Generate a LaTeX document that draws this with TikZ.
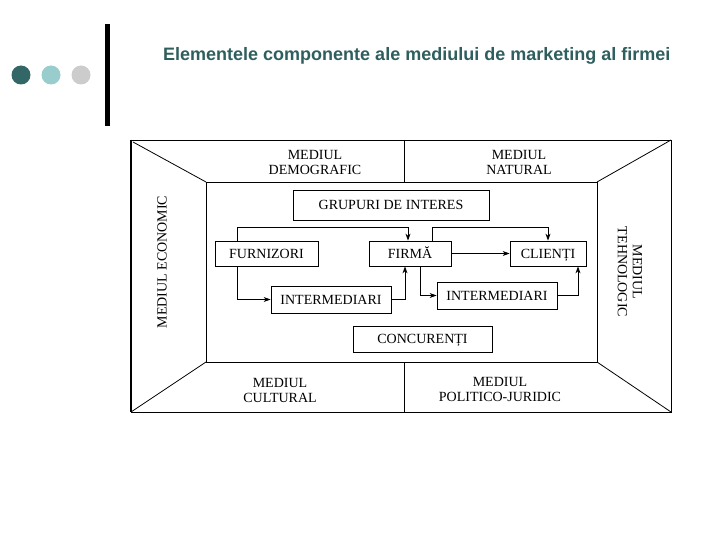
\documentclass[tikz,border=0pt]{standalone}
\usepackage{fontspec}
\setmainfont{Liberation Serif}
\newfontfamily\titlefont{Liberation Sans}
\usetikzlibrary{arrows.meta}
\definecolor{darkteal}{HTML}{336666}
\definecolor{lightteal}{HTML}{99CCCC}
\definecolor{lightgray2}{HTML}{CCCCCC}
\definecolor{titlecol}{HTML}{2E5E5E}
\tikzset{
  box/.style={draw, line width=0.8pt, inner sep=0pt, text height=9.6pt, text depth=0pt,
    font=\fontsize{14}{16}\selectfont, text=black},
  envlabel/.style={align=center, inner sep=0pt, font=\fontsize{14}{15}\selectfont, text=black},
  frame/.style={line width=0.8pt},
  arr/.style={line width=0.8pt, -{Stealth[length=7pt,width=5pt]}},
  dot/.style={circle, minimum size=19pt, inner sep=0pt}
}
\begin{document}
\begin{tikzpicture}[x=1pt,y=-1pt]
\useasboundingbox (0,0) rectangle (720,540);
% header decoration
\node[dot, fill=darkteal] (d1) at (21,75) {};
\node[dot, fill=lightteal] (d2) at (51,75) {};
\node[dot, fill=lightgray2] (d3) at (81,75) {};
\fill[black] (105,24) rectangle (109.5,126);
\node[anchor=west, inner sep=0pt, text=titlecol, font=\titlefont\bfseries\fontsize{18}{20}\selectfont] (title) at (163,56) {Elementele componente ale mediului de marketing al firmei};
% frame
\draw[frame] (131,140) rectangle (671,412);
\draw[line width=2.6pt] (131,139.6) -- (131,412.4);
\draw[frame] (206,182) rectangle (597,362);
\draw[frame] (133,142) -- (206,182);
\draw[frame] (671,140) -- (597,182);
\draw[frame] (131,412) -- (206,362);
\draw[frame] (671,412) -- (597,362);
\draw[frame] (404,140) -- (404,182);
\draw[frame] (404,362) -- (404,412);
% environment labels
\node[envlabel] (demo) at (315,162) {MEDIUL\\DEMOGRAFIC};
\node[envlabel] (nat) at (519,162) {MEDIUL\\NATURAL};
\node[envlabel] (cult) at (280,390) {MEDIUL\\CULTURAL};
\node[envlabel] (pol) at (500,389) {MEDIUL\\POLITICO-JURIDIC};
\node[envlabel, rotate=90] (eco) at (162,262) {MEDIUL ECONOMIC};
\node[envlabel, rotate=-90] (teh) at (630,272) {MEDIUL\\TEHNOLOGIC};
% boxes
\node[box, minimum width=196pt, minimum height=30pt] (grup) at (391,205) {GRUPURI DE INTERES};
\node[box, minimum width=103pt, minimum height=25pt] (furn) at (266.5,253.5) {FURNIZORI};
\node[box, minimum width=82pt, minimum height=25pt] (firma) at (410,253.5) {FIRMĂ};
\node[box, minimum width=76pt, minimum height=25pt] (cli) at (548,253.5) {CLIENȚI};
\node[box, minimum width=120pt, minimum height=27pt] (intL) at (331,299.5) {INTERMEDIARI};
\node[box, minimum width=120pt, minimum height=27pt] (intR) at (497,295.5) {INTERMEDIARI};
\node[box, minimum width=139pt, minimum height=26pt] (conc) at (422.5,339) {CONCURENȚI};
% connectors
\draw[arr] ([xshift=-29.5pt]furn.north) -- ++(0,-13) -| ([xshift=-2pt]firma.north);
\draw[arr] ([xshift=22pt]firma.north) -- ++(0,-13) -| (cli.north);
\draw[arr] (firma.east) -- (cli.west);
\draw[arr] ([xshift=-29.5pt]furn.south) |- (intL.west);
\draw[line width=1.6pt] (intL.east) -- ++(14,0) coordinate (kL);
\draw[arr] (kL) -| ([xshift=-5pt]firma.south);
\draw[arr] ([xshift=10pt]firma.south) |- (intR.west);
\draw[arr] (intR.east) -| ([xshift=30pt]cli.south);
\end{tikzpicture}
\end{document}
